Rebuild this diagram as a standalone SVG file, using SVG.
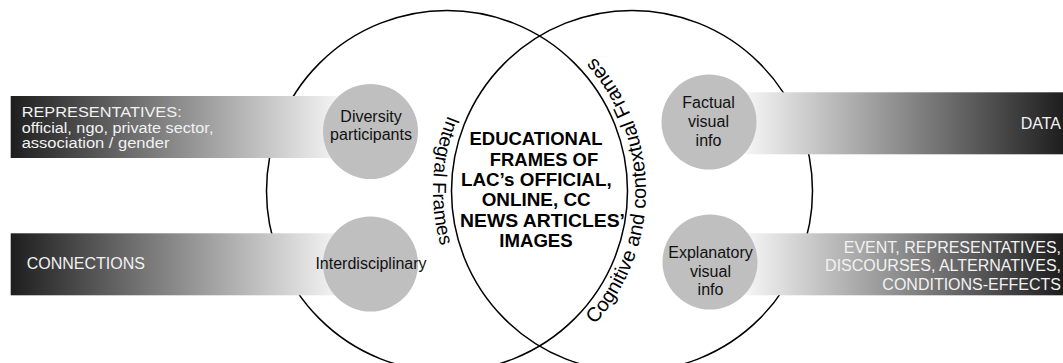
<svg xmlns="http://www.w3.org/2000/svg" xmlns:xlink="http://www.w3.org/1999/xlink" width="1063" height="363" viewBox="0 0 1063 363">
  <defs>
    <linearGradient id="fadeRight" x1="0" y1="0" x2="1" y2="0">
      <stop offset="0" stop-color="#1e1e1e"/>
      <stop offset="1" stop-color="#f6f6f6"/>
    </linearGradient>
    <linearGradient id="fadeLeft" x1="0" y1="0" x2="1" y2="0">
      <stop offset="0" stop-color="#f6f6f6"/>
      <stop offset="1" stop-color="#1e1e1e"/>
    </linearGradient>
    <!-- baseline arcs for the curved frame labels -->
    <path id="arcIntegral" d="M 499.3 42.7 A 199 199 0 0 0 483.7 323.7"/>
    <path id="arcCognitive" d="M 574.9 343.4 A 199 199 0 0 0 574.9 38.6"/>
  </defs>
  <style>
    .ring { fill: none; stroke: #000; stroke-width: 1.5; }
    .bar { stroke: none; }
    .dot { fill: #bfbfbf; }
    .barText { font-family: "Liberation Sans", Arial, sans-serif; fill: #f2f2f2; }
    .dotText { font-family: "Liberation Sans", Arial, sans-serif; fill: #111; font-size: 16px; text-anchor: middle; }
    .title { font-family: "Liberation Sans", Arial, sans-serif; font-weight: bold; font-size: 17.5px; fill: #000; text-anchor: middle; }
    .arcText { font-family: "Liberation Sans", Arial, sans-serif; fill: #000; }
  </style>

  <rect width="1063" height="363" fill="#fff"/>

  <!-- two overlapping frame circles -->
  <g id="venn">
    <circle class="ring" cx="447" cy="191" r="180.5"/>
    <circle class="ring" cx="632" cy="191" r="180.5"/>
  </g>

  <!-- gradient bands running out from the small circles -->
  <g id="connectors">
    <rect class="bar" x="10.7" y="96" width="330" height="62" fill="url(#fadeRight)"/>
    <rect class="bar" x="10.7" y="233.3" width="330" height="62" fill="url(#fadeRight)"/>
    <rect class="bar" x="745" y="92.3" width="318" height="62" fill="url(#fadeLeft)"/>
    <rect class="bar" x="745" y="233.3" width="318" height="62" fill="url(#fadeLeft)"/>
  </g>

  <g id="label-representatives">
    <text class="barText" font-size="14" lengthAdjust="spacingAndGlyphs" x="21.7" y="117.3" textLength="160">REPRESENTATIVES:</text>
    <text class="barText" font-size="14" lengthAdjust="spacingAndGlyphs" x="21.7" y="132.8" textLength="191.7">official, ngo, private sector,</text>
    <text class="barText" font-size="14" lengthAdjust="spacingAndGlyphs" x="21.7" y="148.2" textLength="147.7">association / gender</text>
  </g>

  <g id="label-connections">
    <text class="barText" font-size="16" x="26.7" y="269">CONNECTIONS</text>
  </g>

  <g id="label-data">
    <text class="barText" font-size="16" x="1061" y="128.5" text-anchor="end">DATA</text>
  </g>

  <g id="label-event">
    <text class="barText" font-size="16" x="1061" y="252.5" text-anchor="end">EVENT, REPRESENTATIVES,</text>
    <text class="barText" font-size="16" x="1061" y="271" text-anchor="end">DISCOURSES, ALTERNATIVES,</text>
    <text class="barText" font-size="16" x="1061" y="289.5" text-anchor="end">CONDITIONS-EFFECTS</text>
  </g>

  <g id="node-diversity">
    <circle class="dot" cx="370.5" cy="131.5" r="47.5"/>
    <text class="dotText" x="371" y="122">Diversity</text>
    <text class="dotText" x="371" y="140">participants</text>
  </g>

  <g id="node-interdisciplinary">
    <circle class="dot" cx="370.5" cy="264" r="47.5"/>
    <text class="dotText" x="371" y="268.5" font-size="12.7">Interdisciplinary</text>
  </g>

  <g id="node-factual">
    <circle class="dot" cx="709" cy="122" r="47.5"/>
    <text class="dotText" x="708.5" y="107.5">Factual</text>
    <text class="dotText" x="708.5" y="126.5">visual</text>
    <text class="dotText" x="708.5" y="145.5">info</text>
  </g>

  <g id="node-explanatory">
    <circle class="dot" cx="710" cy="262" r="47.5"/>
    <text class="dotText" x="710.5" y="257.5">Explanatory</text>
    <text class="dotText" x="710.5" y="276.5">visual</text>
    <text class="dotText" x="710.5" y="295">info</text>
  </g>

  <g id="node-title">
    <text class="title" x="536" y="145" textLength="133" lengthAdjust="spacingAndGlyphs">EDUCATIONAL</text>
    <text class="title" x="544" y="165.5" textLength="108.3" lengthAdjust="spacingAndGlyphs">FRAMES OF</text>
    <text class="title" x="536.3" y="186" textLength="150.7" lengthAdjust="spacingAndGlyphs">LAC’s OFFICIAL,</text>
    <text class="title" x="536.2" y="206" textLength="109" lengthAdjust="spacingAndGlyphs">ONLINE, CC</text>
    <text class="title" x="542.5" y="226.5" textLength="165" lengthAdjust="spacingAndGlyphs">NEWS ARTICLES’</text>
    <text class="title" x="536" y="247" textLength="73.4" lengthAdjust="spacingAndGlyphs">IMAGES</text>
  </g>

  <g id="label-integral">
    <text class="arcText" font-size="19"><textPath xlink:href="#arcIntegral" href="#arcIntegral" startOffset="50%" text-anchor="middle">Integral Frames</textPath></text>
  </g>

  <!-- one word per text run along the same arc -->
  <g id="label-cognitive" class="arcText" font-size="20">
    <text><textPath xlink:href="#arcCognitive" href="#arcCognitive" startOffset="27.4">Cognitive</textPath></text>
    <text><textPath xlink:href="#arcCognitive" href="#arcCognitive" startOffset="116.4">and</textPath></text>
    <text><textPath xlink:href="#arcCognitive" href="#arcCognitive" startOffset="155.4">contextual</textPath></text>
    <text><textPath xlink:href="#arcCognitive" href="#arcCognitive" startOffset="252.2">Frames</textPath></text>
  </g>
</svg>
